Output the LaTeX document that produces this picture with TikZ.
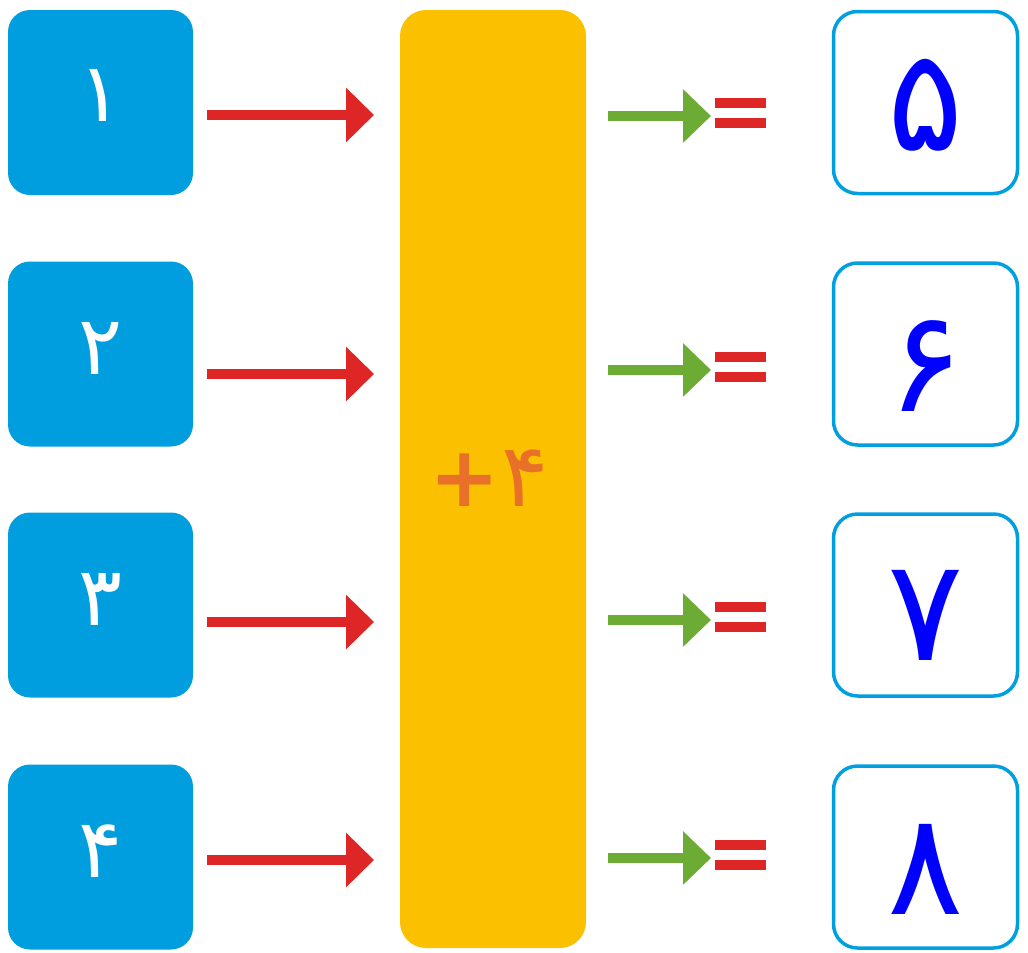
\documentclass[tikz,border=0pt]{standalone}
\usepackage{fontspec}
\newfontfamily\fa[Script=Arabic]{DejaVu Sans}
\newfontfamily\plusfont{DejaVu Sans}
\usetikzlibrary{arrows.meta}
\definecolor{boxblue}{RGB}{0,158,222}
\definecolor{framblue}{RGB}{0,160,224}
\definecolor{ybar}{RGB}{251,192,0}
\definecolor{plusor}{RGB}{232,112,40}
\definecolor{redar}{RGB}{222,38,38}
\definecolor{greenar}{RGB}{108,172,52}
\definecolor{digblue}{RGB}{0,0,255}
\tikzset{
  inbox/.style={fill=boxblue, rounded corners=22, minimum width=185, minimum height=185, inner sep=0},
  indigit/.style={inner sep=0, text=white, font=\fa\fontsize{82}{82}\selectfont},
  outbox/.style={draw=framblue, line width=3.5, fill=white, rounded corners=24, minimum width=184, minimum height=182, inner sep=0},
  outdigit/.style={inner sep=0, text=digblue, font=\fa\fontsize{142}{142}\selectfont},
  redarrow/.style={draw=redar, line width=10, -{Triangle[length=28, width=53]}},
  greenarrow/.style={draw=greenar, line width=10, -{Triangle[length=28, width=52]}},
  eqbar/.style={fill=redar}
}
\begin{document}
\begin{tikzpicture}[x=1pt,y=-1pt]
\useasboundingbox (0,0) rectangle (1028,953);
% central bar
\node[fill=ybar, rounded corners=26, minimum width=186, minimum height=938, inner sep=0] (bar) at (493,479) {};
\node[text=plusor, font=\plusfont\bfseries\fontsize{84}{84}\selectfont, inner sep=0] (plus) at (489,478) {+\kern1pt{\fa\mdseries\fontsize{88}{88}\selectfont ۴}};
% input boxes
\node[inbox] (i1) at (100.5,102.5) {};
\node[inbox] (i2) at (100.5,354) {};
\node[inbox] (i3) at (100.5,605) {};
\node[inbox] (i4) at (100.5,857) {};
\node[indigit] (n1) at ([yshift=7]i1.center) {۱};
\node[indigit] (n2) at ([yshift=6]i2.center) {۲};
\node[indigit] (n3) at ([yshift=6]i3.center) {۳};
\node[indigit] (n4) at ([yshift=6]i4.center) {۴};
% output boxes
\node[outbox] (o1) at (925.5,102.5) {};
\node[outbox] (o2) at (925.5,354) {};
\node[outbox] (o3) at (925.5,605) {};
\node[outbox] (o4) at (925.5,857) {};
\node[outdigit] (m1) at ([yshift=-3]o1.center) {۵};
\node[outdigit] (m2) at ([yshift=-12]o2.center) {۶};
\node[outdigit] (m3) at ([yshift=-10]o3.center) {۷};
\node[outdigit] (m4) at ([yshift=-12]o4.center) {۸};
% red arrows
\foreach \k/\y in {1/115,2/374,3/622,4/860}{
  \coordinate (rs\k) at (207,\y);
  \coordinate (re\k) at (374,\y);
  \draw[redarrow] (rs\k) -- (re\k);
}
% green arrows and equals
\foreach \k/\y in {1/116,2/370,3/620,4/858}{
  \coordinate (gs\k) at (608,\y);
  \coordinate (ge\k) at (711,\y);
  \draw[greenarrow] (gs\k) -- (ge\k);
  \fill[eqbar] (715,\y-18) rectangle (766,\y-8);
  \fill[eqbar] (715,\y+2) rectangle (766,\y+12);
}
\end{tikzpicture}
\end{document}
